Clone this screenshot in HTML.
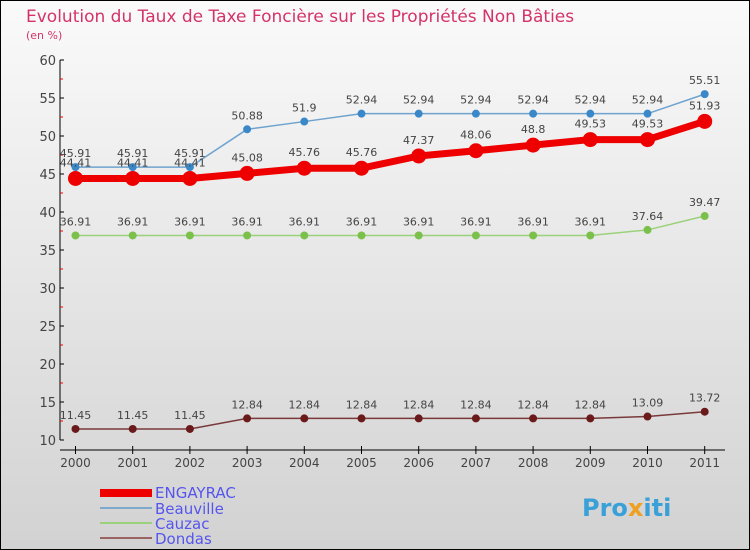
<!DOCTYPE html>
<html><head><meta charset="utf-8"><style>
body{margin:0}
svg{display:block;font-family:"DejaVu Sans","Liberation Sans",sans-serif}
</style></head><body>
<svg width="750" height="550" xmlns="http://www.w3.org/2000/svg" id="chart">
<defs><linearGradient id="bg" x1="0" y1="0" x2="0" y2="1"><stop offset="0" stop-color="#fafafa"/><stop offset="1" stop-color="#d2d2d2"/></linearGradient></defs>
<rect x="0.5" y="0.5" width="749" height="549" fill="url(#bg)" stroke="#000"/>
<text x="26" y="22" font-size="17" fill="#d4336a">Evolution du Taux de Taxe Foncière sur les Propriétés Non Bâties</text>
<text x="26" y="39" font-size="11" fill="#d4336a">(en %)</text>
<g id="axes"></g>
<g id="series"></g>
<g id="legend">
<rect x="100" y="489" width="52" height="8" fill="#e00"/>
<text x="155" y="498" font-size="15" fill="#5555ee">ENGAYRAC</text>
<rect x="100" y="507" width="52" height="2" fill="#7fa9cc"/>
<text x="155" y="514" font-size="15" fill="#5555ee">Beauville</text>
<rect x="100" y="522" width="52" height="2" fill="#99d27a"/>
<text x="155" y="529" font-size="15" fill="#5555ee">Cauzac</text>
<rect x="100" y="537" width="52" height="2" fill="#9a6464"/>
<text x="155" y="544" font-size="15" fill="#5555ee">Dondas</text>
</g>
<text x="582" y="516" font-size="24" font-weight="bold" fill="#3aa0d8">Pro<tspan fill="#f0a020">x</tspan>iti</text>
</svg>
<script>
const years=["2000","2001","2002","2003","2004","2005","2006","2007","2008","2009","2010","2011"];
const engayrac=[44.41,44.41,44.41,45.08,45.76,45.76,47.37,48.06,48.8,49.53,49.53,51.93];
const beauville=[45.91,45.91,45.91,50.88,51.9,52.94,52.94,52.94,52.94,52.94,52.94,55.51];
const cauzac=[36.91,36.91,36.91,36.91,36.91,36.91,36.91,36.91,36.91,36.91,37.64,39.47];
const dondas=[11.45,11.45,11.45,12.84,12.84,12.84,12.84,12.84,12.84,12.84,13.09,13.72];
const yTicks=[10,15,20,25,30,35,40,45,50,55,60];
const NS="http://www.w3.org/2000/svg";
const X=i=>75.5+i*57.2;
const Y=v=>440-(v-10)*7.6;
function mk(t,a,p){const e=document.createElementNS(NS,t);for(const k in a)e.setAttribute(k,a[k]);p.appendChild(e);return e;}
const ax=document.getElementById('axes');
const yl=mk('line',{x1:60,y1:60,x2:60,y2:440,stroke:'#000'},ax);


yTicks.forEach(v=>{
  mk('line',{x1:60,y1:Y(v),x2:64,y2:Y(v),stroke:'#000'},ax);
  if(v<60)mk('line',{x1:60,y1:Y(v+2.5),x2:63,y2:Y(v+2.5),stroke:'#e00'},ax);
  const t=mk('text',{x:56,y:Y(v)+5,'font-size':13,'text-anchor':'end',fill:'#444'},ax);
  t.textContent=v;
  
  
});
const xl=mk('line',{x1:60,y1:450,x2:725,y2:450,stroke:'#000'},ax);


years.forEach((y,i)=>{
  mk('line',{x1:X(i),y1:446,x2:X(i),y2:454,stroke:'#000'},ax);
  const t=mk('text',{x:X(i),y:467,'font-size':12,'text-anchor':'middle',fill:'#444'},ax);
  t.textContent=y;
  
  
});
const sg=document.getElementById('series');
function draw(name,data,line,dot,w,r,fs,dy){
  const g=mk('g',{},sg);
  
  
  const pl=mk('polyline',{points:data.map((v,i)=>X(i)+','+Y(v)).join(' '),fill:'none',stroke:line,'stroke-width':w,'stroke-linejoin':'round'},g);
  
  
  data.forEach((v,i)=>{
    const c=mk('circle',{cx:X(i),cy:Y(v),r:r,fill:dot},g);
    
    
    const t=mk('text',{x:X(i),y:Y(v)-dy,'font-size':fs,'text-anchor':'middle',fill:'#444'},g);
    t.textContent=v;
    
    
  });
}
draw('dondas',dondas,'#7a3a3a','#6a1a1a',1.5,4,11,10);
draw('cauzac',cauzac,'#99d27a','#7ac04a',1.5,4,11,10);
draw('beauville',beauville,'#6fa3cf','#3a88c8',1.5,4,11,10);
draw('engayrac',engayrac,'#e00','#e00',7,7.5,11,12);
</script>
</body></html>
